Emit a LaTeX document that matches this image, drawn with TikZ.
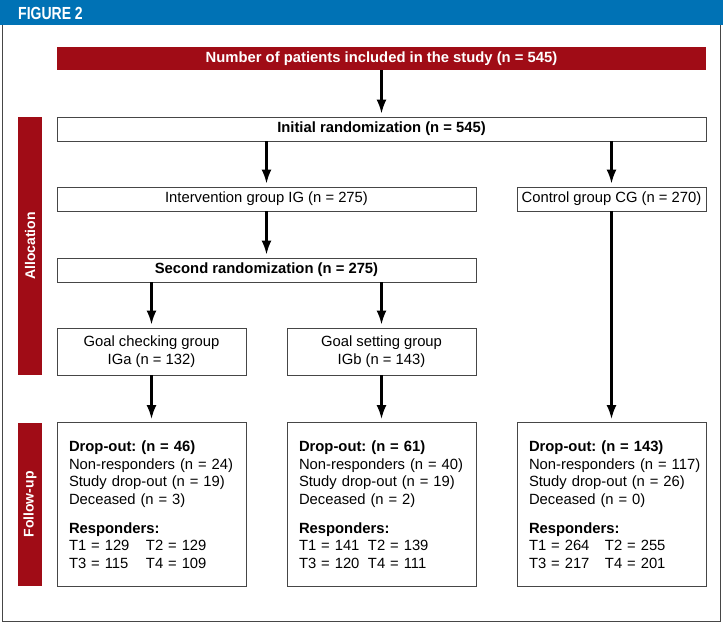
\documentclass[tikz,border=0pt]{standalone}
\usepackage{fontspec}
\setmainfont{Liberation Sans}
\newfontfamily\headfont{Liberation Sans}[FakeStretch=0.8]
\usepackage{tikz}
\usetikzlibrary{arrows.meta}
\definecolor{fblue}{RGB}{0,114,181}
\definecolor{fred}{RGB}{160,12,22}
\definecolor{fgray}{RGB}{70,70,70}
\frenchspacing

\newcommand{\tpair}[3]{\makebox[#1][l]{#2}#3}

\begin{document}
\begin{tikzpicture}[x=1pt,y=-1pt,
  box/.style={draw=fgray, line width=0.8pt, inner sep=0pt, font=\fontsize{14.8}{17.5}\selectfont},
  bbox/.style={box, font=\bfseries\fontsize{14.8}{17.5}\selectfont},
  fubox/.style={box, minimum width=189pt, minimum height=164pt, text width=165pt, align=left, inner xsep=12pt},
  sidebar/.style={fill=fred, text=white, font=\bfseries\fontsize{14}{16}\selectfont, rotate=90, inner sep=0pt, minimum height=24pt},
  arr/.style={line width=2.2pt, -{Latex[length=14pt,width=10pt]}, shorten >=3pt}]
\useasboundingbox (0,0) rectangle (723,623);
% header and frame
\fill[fblue] (0,0) rectangle (723,25);
\draw[fgray, line width=1pt] (2,25) -- (2,621) -- (720,621) -- (720,25);
\node[anchor=base west, text=white, inner sep=0pt, font=\headfont\bfseries\fontsize{17.5}{17.5}\selectfont] (fig) at (18,20) {FIGURE 2};
% side bars
\node[sidebar, minimum width=258pt] (alloc) at (30,246) {Allocation};
\node[sidebar, minimum width=163pt] (follow) at (30,504.5) {Follow-up};
% boxes
\node[fill=fred, text=white, inner sep=0pt, minimum width=649pt, minimum height=23pt, font=\bfseries\fontsize{14.8}{17.5}\selectfont] (total) at (381.5,58.5) {Number of patients included in the study (n = 545)};
\node[bbox, minimum width=649pt, minimum height=24pt] (initrand) at (381.5,129) {Initial randomization (n = 545)};
\node[box, minimum width=419pt, minimum height=24pt] (ig) at (266.5,199) {Intervention group IG (n = 275)};
\node[box, minimum width=189pt, minimum height=24pt] (cg) at (611.5,199) {Control group CG (n = 270)};
\node[bbox, minimum width=419pt, minimum height=24pt] (secrand) at (266.5,270) {Second randomization (n = 275)};
\node[box, minimum width=189pt, minimum height=47pt, align=center, font=\fontsize{14.8}{18.5}\selectfont] (iga) at (151.5,351.5) {Goal checking group\\IGa (n = 132)};
\node[box, minimum width=189pt, minimum height=47pt, align=center, font=\fontsize{14.8}{18.5}\selectfont] (igb) at (381.5,351.5) {Goal setting group\\IGb (n = 143)};
\node[fubox] (fua) at (151.5,504.5) {\textbf{Drop-out: (n = 46)}\\Non-responders (n = 24)\\Study drop-out (n = 19)\\Deceased (n = 3)\\[11.5pt]\textbf{Responders:}\\\tpair{77pt}{T1 = 129}{T2 = 129}\\\tpair{77pt}{T3 = 115}{T4 = 109}};
\node[fubox] (fub) at (381.5,504.5) {\textbf{Drop-out: (n = 61)}\\Non-responders (n = 40)\\Study drop-out (n = 19)\\Deceased (n = 2)\\[11.5pt]\textbf{Responders:}\\\tpair{69pt}{T1 = 141}{T2 = 139}\\\tpair{69pt}{T3 = 120}{T4 = 111}};
\node[fubox] (fucg) at (611.5,504.5) {\textbf{Drop-out: (n = 143)}\\\mbox{Non-responders (n = 117)}\\Study drop-out (n = 26)\\Deceased (n = 0)\\[11.5pt]\textbf{Responders:}\\\tpair{76pt}{T1 = 264}{T2 = 255}\\\tpair{76pt}{T3 = 217}{T4 = 201}};
% arrows
\draw[arr] (total) -- (initrand);
\draw[arr] (initrand.south -| ig.north) -- (ig.north);
\draw[arr] (initrand.south -| cg.north) -- (cg.north);
\draw[arr] (ig) -- (secrand);
\draw[arr] (secrand.south -| iga.north) -- (iga.north);
\draw[arr] (secrand.south -| igb.north) -- (igb.north);
\foreach \a/\b in {iga/fua, igb/fub, cg/fucg}
  \draw[arr] (\a) -- (\b);
\end{tikzpicture}
\end{document}
